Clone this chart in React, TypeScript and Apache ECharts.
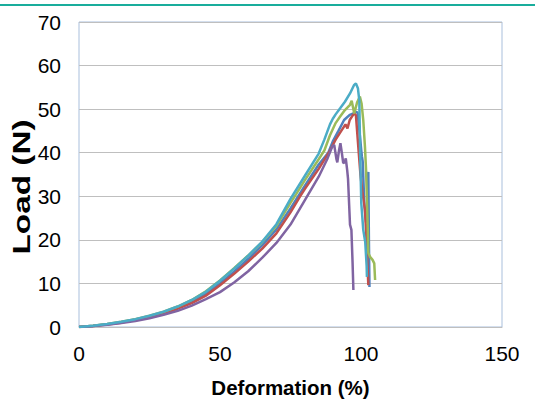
import React, { useEffect, useRef } from "react";
import * as echarts from "echarts";

const xTicks = [0, 50, 100, 150];
const yTicks = [0, 10, 20, 30, 40, 50, 60, 70];
const xTitle = "Deformation (%)";
const yTitle = "Load (N)";

const blueSeries: number[][] = [
  [0, 0], [5, 0.3], [10, 0.65], [15, 1.1], [20, 1.7], [25, 2.4], [30, 3.3], [35, 4.4],
  [40, 5.8], [45, 7.6], [50, 10.0], [55, 12.7], [60, 15.6], [65, 18.8], [70, 22.4],
  [75, 27.2], [80, 32.3], [85, 37.3], [88.4, 40], [90, 42.6], [92, 45], [94, 47.5],
  [96, 48.7], [97.3, 49], [98.2, 49.4], [98.8, 49.2], [99.6, 44], [100.1, 40.5],
  [100.3, 39.2], [100.6, 38], [101.2, 28], [101.8, 24], [102.3, 26], [102.6, 35.6],
  [102.8, 20], [103, 9.2],
];
const redSeries: number[][] = [
  [0, 0], [5, 0.25], [10, 0.6], [15, 1.0], [20, 1.6], [25, 2.3], [30, 3.1], [35, 4.2],
  [40, 5.5], [45, 7.2], [50, 9.6], [55, 12.2], [60, 15.0], [65, 18.0], [70, 21.5],
  [75, 26.3], [78.4, 30], [80, 31.6], [85, 36.3], [89, 40.5], [91, 43], [93, 45],
  [94.5, 46.5], [95.2, 45.6], [96, 47.5], [97, 48.5], [97.7, 49], [98.2, 48.6],
  [98.5, 46], [99.2, 40], [99.8, 35], [100.5, 31], [101.4, 27], [101.8, 22],
  [102.3, 14], [102.6, 9.6],
];
const greenSeries: number[][] = [
  [0, 0], [5, 0.3], [10, 0.7], [15, 1.2], [20, 1.8], [25, 2.6], [30, 3.5], [35, 4.7],
  [40, 6.2], [45, 8.2], [50, 10.7], [55, 13.5], [60, 16.4], [65, 19.5], [70, 23.2],
  [75, 28.5], [77, 30.5], [80, 33.6], [85, 38.5], [87, 40.5], [89, 44.0], [91, 46.8],
  [92.6, 48.3], [94.3, 49.8], [96.1, 51.0], [96.7, 51.9], [97.6, 49], [98.6, 51.5],
  [99.6, 52.9], [100.2, 51.3], [100.8, 47.5], [101.4, 41.4], [101.8, 36.0],
  [102, 31.4], [102.3, 25], [102.6, 17], [103.2, 16.1], [104.1, 15.4], [104.7, 14.6],
  [105, 10.8],
];
const purpleSeries: number[][] = [
  [0, 0], [5, 0.2], [10, 0.5], [15, 0.9], [20, 1.4], [25, 2.0], [30, 2.8], [35, 3.7],
  [40, 4.9], [45, 6.4], [50, 8.0], [55, 10.2], [60, 12.8], [65, 15.9], [70, 19.3],
  [75, 23.5], [80, 29.0], [85, 34.5], [88, 38.5], [89.8, 41.4], [90.5, 41.8],
  [91.3, 38.5], [91.6, 37.8], [92.2, 40.5], [92.7, 42.2], [93.2, 40], [93.7, 37.6],
  [94.2, 37.8], [94.6, 38.7], [95.1, 36.0], [95.4, 34], [95.8, 28], [96.1, 23.5],
  [96.6, 22.3], [97.0, 15], [97.3, 8.5],
];
const aquaSeries: number[][] = [
  [0, 0], [5, 0.3], [10, 0.7], [15, 1.2], [20, 1.8], [25, 2.6], [30, 3.5], [35, 4.7],
  [40, 6.2], [45, 8.1], [50, 10.6], [55, 13.4], [60, 16.4], [65, 19.6], [70, 23.6],
  [75, 29.4], [80, 34.6], [85, 39.8], [87, 43.0], [89, 46.5], [90, 47.8], [91, 48.8],
  [92.6, 50.2], [94.3, 51.7], [96.1, 53.6], [97.5, 55.5], [98.2, 55.9], [98.9, 54.8],
  [99.4, 52], [99.7, 40], [100.1, 28.4], [100.8, 22.3], [101.5, 19.5], [102, 14],
  [102.1, 11.5],
];

const seriesList = [
  { name: "S1", color: "#4F81BD", data: blueSeries },
  { name: "S2", color: "#C0504D", data: redSeries },
  { name: "S3", color: "#9BBB59", data: greenSeries },
  { name: "S4", color: "#8064A2", data: purpleSeries },
  { name: "S5", color: "#4BACC6", data: aquaSeries },
];

const FONT = "Liberation Sans, Arial, sans-serif";

export default function App() {
  const ref = useRef<HTMLDivElement>(null);
  useEffect(() => {
    if (!ref.current) return;
    const chart = echarts.init(ref.current, null, { renderer: "svg" });
    chart.setOption({
      animation: false,
      backgroundColor: "#ffffff",
      textStyle: { fontFamily: FONT },
      graphic: [
        {
          type: "line",
          shape: { x1: 0, y1: 5, x2: 535, y2: 5 },
          style: { stroke: "#19ad9c", lineWidth: 2 },
        },
        {
          type: "text",
          x: 22,
          y: 187,
          rotation: Math.PI / 2,
          scaleX: 1.45,
          style: {
            text: yTitle,
            font: `bold 23px ${FONT}`,
            fill: "#000",
            align: "center",
            verticalAlign: "middle",
          },
        },
      ],
      grid: {
        left: 79,
        top: 22,
        right: 33,
        bottom: 72,
        show: true,
        borderColor: "#a9bfdc",
        borderWidth: 1,
        containLabel: false,
        outerBoundsMode: "none",
      },
      xAxis: {
        type: "value",
        min: xTicks[0],
        max: xTicks[xTicks.length - 1],
        interval: 50,
        name: xTitle,
        nameLocation: "middle",
        nameGap: 50,
        nameTextStyle: { fontSize: 20.5, fontWeight: "bold", color: "#000" },
        axisLine: { show: true, lineStyle: { color: "#bfbfbf", width: 1 } },
        axisTick: { show: false },
        splitLine: { show: false },
        axisLabel: { fontSize: 21, color: "#000", margin: 16 },
      },
      yAxis: {
        type: "value",
        min: yTicks[0],
        max: yTicks[yTicks.length - 1],
        interval: 10,
        axisLine: { show: false },
        axisTick: { show: false },
        splitLine: { show: true, lineStyle: { color: "#bfbfbf", width: 1 } },
        axisLabel: { fontSize: 21, color: "#000", margin: 18 },
      },
      series: seriesList.map((s) => ({
        name: s.name,
        type: "line",
        data: s.data,
        showSymbol: false,
        symbol: "none",
        smooth: false,
        lineStyle: { color: s.color, width: 2.5 },
        itemStyle: { color: s.color },
      })),
    });
    return () => chart.dispose();
  }, []);
  return (
    <div
      ref={ref}
      style={{ position: "absolute", left: 0, top: 0, width: 535, height: 399 }}
    />
  );
}
